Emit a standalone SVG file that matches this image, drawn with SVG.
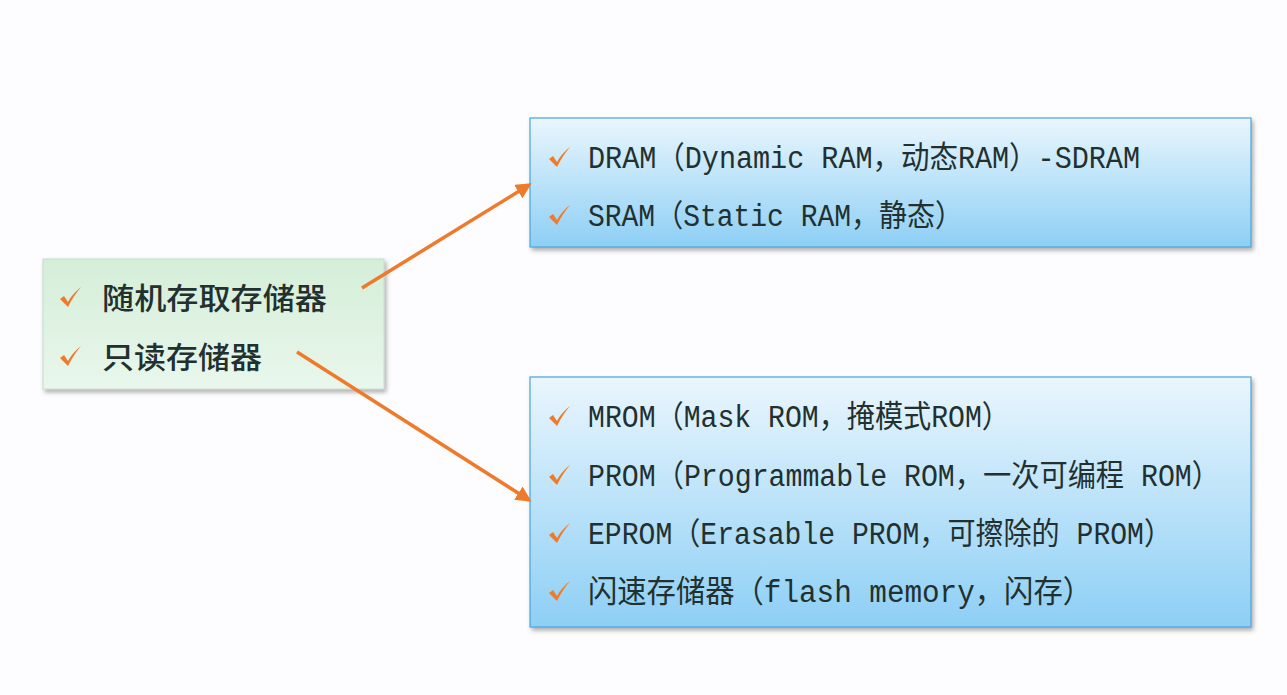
<svg xmlns="http://www.w3.org/2000/svg" width="1287" height="695" viewBox="0 0 1287 695">
<style>
.t{font-family:"Liberation Mono","Noto Sans CJK SC",monospace;font-size:31px;fill:#22302f}
.c{font-family:"Noto Sans CJK SC","Liberation Sans",sans-serif;font-size:30px;font-weight:500;fill:#22302f}
.conn{stroke:#ee7a2c;stroke-width:3.5;fill:none}
</style>
<defs>
<linearGradient id="blue" x1="0" y1="0" x2="0" y2="1">
<stop offset="0" stop-color="#eaf6fd"/>
<stop offset="1" stop-color="#8dcff5"/>
</linearGradient>
<linearGradient id="green" x1="0" y1="0" x2="0" y2="1">
<stop offset="0" stop-color="#d4eed8"/>
<stop offset="1" stop-color="#e9f7ec"/>
</linearGradient>
<filter id="sh" x="-5%" y="-5%" width="115%" height="120%">
<feDropShadow dx="2" dy="3" stdDeviation="2" flood-color="#555" flood-opacity="0.45"/>
</filter>
<path id="chk" d="M0,9 L4,6 L8,12 C12,5 16,1 21,-3 C16,3 12,9 8,17 Z" fill="#ef7b2a"/>
<marker id="ah" viewBox="0 0 10 10" refX="8" refY="5" markerWidth="4.5" markerHeight="4.5" orient="auto" markerUnits="strokeWidth">
<path d="M0,0 L10,5 L0,10 Z" fill="#ee7a2c"/>
</marker>
</defs>
<rect width="1287" height="695" fill="#fdfcfe"/>
<g id="left-node">
<rect x="43" y="259" width="341" height="130" fill="url(#green)" stroke="#c8dccb" stroke-width="1" filter="url(#sh)"/>
<use href="#chk" x="60" y="290"/>
<text class="c" x="102" y="309" textLength="225" lengthAdjust="spacingAndGlyphs">随机存取存储器</text>
<use href="#chk" x="60" y="349"/>
<text class="c" x="102" y="368" textLength="160" lengthAdjust="spacingAndGlyphs">只读存储器</text>
</g>
<g id="ram-node">
<rect x="530" y="118" width="721" height="129" fill="url(#blue)" stroke="#4aa6dc" stroke-width="1.2" filter="url(#sh)"/>
<use href="#chk" x="549" y="150"/>
<text class="t" x="588" y="168" textLength="552" lengthAdjust="spacingAndGlyphs">DRAM（Dynamic RAM，动态RAM）-SDRAM</text>
<use href="#chk" x="549" y="208"/>
<text class="t" x="588" y="226" textLength="375" lengthAdjust="spacingAndGlyphs">SRAM（Static RAM，静态）</text>
</g>
<g id="rom-node">
<rect x="530" y="377" width="721" height="250" fill="url(#blue)" stroke="#4aa6dc" stroke-width="1.2" filter="url(#sh)"/>
<use href="#chk" x="549" y="409"/>
<text class="t" x="588" y="427" textLength="422" lengthAdjust="spacingAndGlyphs">MROM（Mask ROM，掩模式ROM）</text>
<use href="#chk" x="549" y="468"/>
<text class="t" x="588" y="486" textLength="632" lengthAdjust="spacingAndGlyphs">PROM（Programmable ROM，一次可编程 ROM）</text>
<use href="#chk" x="549" y="526"/>
<text class="t" x="588" y="544" textLength="584" lengthAdjust="spacingAndGlyphs">EPROM（Erasable PROM，可擦除的 PROM）</text>
<use href="#chk" x="549" y="584"/>
<text class="t" x="588" y="602" textLength="504" lengthAdjust="spacingAndGlyphs">闪速存储器（flash memory，闪存）</text>
</g>
<g id="connectors">
<line class="conn" x1="362" y1="288" x2="529" y2="185" marker-end="url(#ah)"/>
<line class="conn" x1="297" y1="352" x2="529" y2="500" marker-end="url(#ah)"/>
</g>
</svg>
